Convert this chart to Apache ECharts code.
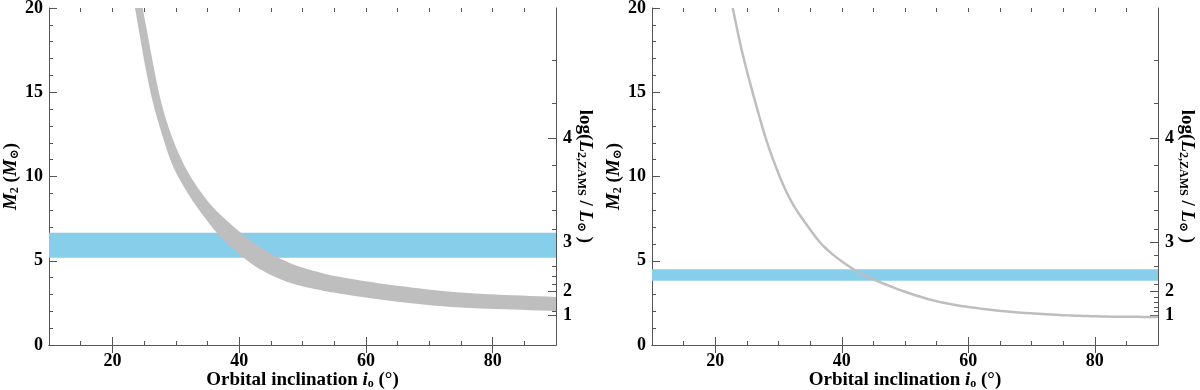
<!DOCTYPE html>
<html>
<head>
    <meta charset="utf-8">
    <title>M2 vs orbital inclination</title>
    <script src="https://cdn.jsdelivr.net/npm/echarts@6/dist/echarts.min.js"></script>
</head>
<body style="margin:0;background:#fff;">
    <div id="myEcharts" style="width: 1200px;height:390px;"></div>
    <script type="text/javascript">
        // x range and tick labels
        var inclMin = 10, inclMax = 90;
        var inclLabels = [20, 40, 60, 80];
        var massMin = 0, massMax = 20;

        // right axis: log L(ZAMS) ticks and the masses where they sit
        var logLMajor = [1, 2, 3, 4];
        var logLMajorMass = [1.76, 3.2, 6.08, 12.27];
        var logLMinor = [1.2, 1.4, 1.6, 1.8, 2.2, 2.4, 2.6, 2.8, 3.2, 3.4, 3.6, 3.8, 4.2, 4.4];
        var logLMinorMass = [2.02, 2.27, 2.51, 2.81, 3.62, 4.1, 4.69, 5.34, 6.88, 7.97, 9.1, 10.68, 14.34, 16.88];

        // left panel: grey band (upper and lower edge) and blue band
        var leftUpperIncl = [24.78, 25.6, 26.5, 27.62, 29.2, 31.46, 34.5, 37.0, 42.24, 47.5, 52.76, 58, 65, 74.3, 90];
        var leftUpperMass = [20, 18.35, 16.55, 14.54, 12.56, 10.58, 8.8, 7.75, 6.1, 4.95, 4.3, 3.9, 3.52, 3.13, 2.85];
        var leftLowerIncl = [23.57, 24.4, 25.2, 26.3, 27.78, 29.6, 32.25, 34.5, 37.0, 42.24, 47.5, 52.76, 58, 65, 74.3, 90];
        var leftLowerMass = [20, 18.2, 16.5, 14.54, 12.56, 10.58, 8.8, 7.6, 6.45, 4.75, 3.76, 3.26, 2.93, 2.57, 2.24, 2.02];
        var leftBlue = [5.18, 6.66];

        // right panel: grey curve and blue band
        var rightIncl = [22.76, 24.18, 26.24, 28.61, 31.77, 34.62, 37.3, 42.05, 46.0, 51.5, 56.3, 64.5, 72.4, 80.3, 90];
        var rightMass = [20, 17.51, 14.54, 11.57, 8.7, 7.05, 5.8, 4.45, 3.74, 2.97, 2.49, 2.05, 1.82, 1.7, 1.66];
        var rightBlue = [3.82, 4.49];

        var serif = '"Liberation Serif", "DejaVu Serif", serif';
        var axisColor = '#555';
        var bandGrey = '#bebebe';
        var skyBlue = '#87ceeb';

        var nameRich = {
            n: {fontFamily: serif, fontSize: 19, fontWeight: 'bold', color: '#000'},
            it: {fontFamily: serif, fontSize: 19, fontWeight: 'bold', fontStyle: 'italic', color: '#000'},
            sub: {fontFamily: serif, fontSize: 12, color: '#000', verticalAlign: 'bottom'}
        };

        // centripetal catmull-rom through pixel points, only for drawing
        function smoothPts(pts) {
            var out = [pts[0]];
            function tj(ti, a, b) {
                var dx = b[0] - a[0], dy = b[1] - a[1];
                return ti + Math.max(Math.pow(dx * dx + dy * dy, 0.25), 1e-4);
            }
            for (var i = 0; i < pts.length - 1; i++) {
                var p0 = pts[i - 1] || [2 * pts[i][0] - pts[i + 1][0], 2 * pts[i][1] - pts[i + 1][1]];
                var p1 = pts[i], p2 = pts[i + 1];
                var p3 = pts[i + 2] || [2 * p2[0] - p1[0], 2 * p2[1] - p1[1]];
                var t0 = 0, t1 = tj(t0, p0, p1), t2 = tj(t1, p1, p2), t3 = tj(t2, p2, p3);
                for (var s = 1; s <= 12; s++) {
                    var t = t1 + (t2 - t1) * s / 12;
                    var pt = [];
                    for (var d = 0; d < 2; d++) {
                        var a1 = (t1 - t) / (t1 - t0) * p0[d] + (t - t0) / (t1 - t0) * p1[d];
                        var a2 = (t2 - t) / (t2 - t1) * p1[d] + (t - t1) / (t2 - t1) * p2[d];
                        var a3 = (t3 - t) / (t3 - t2) * p2[d] + (t - t2) / (t3 - t2) * p3[d];
                        var b1 = (t2 - t) / (t2 - t0) * a1 + (t - t0) / (t2 - t0) * a2;
                        var b2 = (t3 - t) / (t3 - t1) * a2 + (t - t1) / (t3 - t1) * a3;
                        pt.push((t2 - t) / (t2 - t1) * b1 + (t - t1) / (t2 - t1) * b2);
                    }
                    out.push(pt);
                }
            }
            return out;
        }

        function xAxes(g) {
            var base = {gridIndex: g, type: 'value', min: inclMin, max: inclMax, splitLine: {show: false}};
            return [
                Object.assign({}, base, {
                    position: 'bottom',
                    axisLine: {show: true, lineStyle: {color: axisColor, width: 1}},
                    axisTick: {inside: true, length: 8, customValues: inclLabels, lineStyle: {color: axisColor}},
                    axisLabel: {customValues: inclLabels, margin: 7, fontFamily: serif, fontSize: 18, fontWeight: 'bold', color: '#000'},
                    name: '{n|Orbital inclination }{it|i}{sub|o}{n| (°)}',
                    nameLocation: 'middle', nameGap: 26, nameMoveOverlap: false,
                    nameTextStyle: {rich: nameRich, fontFamily: serif, fontSize: 19, fontWeight: 'bold'}
                }),
                Object.assign({}, base, {
                    position: 'bottom', interval: 5,
                    axisLine: {show: false},
                    axisTick: {inside: true, length: 4, lineStyle: {color: axisColor}},
                    axisLabel: {show: false}
                }),
                Object.assign({}, base, {
                    position: 'top',
                    axisLine: {show: true, lineStyle: {color: axisColor, width: 1}},
                    axisTick: {inside: true, length: 8, customValues: inclLabels, lineStyle: {color: axisColor}},
                    axisLabel: {show: false}
                }),
                Object.assign({}, base, {
                    position: 'top', interval: 5,
                    axisLine: {show: false},
                    axisTick: {inside: true, length: 4, lineStyle: {color: axisColor}},
                    axisLabel: {show: false}
                })
            ];
        }

        function yAxes(g) {
            var base = {gridIndex: g, type: 'value', min: massMin, max: massMax, splitLine: {show: false}};
            return [
                Object.assign({}, base, {
                    position: 'left', interval: 5,
                    axisLine: {show: true, lineStyle: {color: axisColor, width: 1}},
                    axisTick: {inside: true, length: 8, lineStyle: {color: axisColor}},
                    minorTick: {show: true, splitNumber: 5, length: 4, lineStyle: {color: axisColor}},
                    axisLabel: {margin: 6, fontFamily: serif, fontSize: 18, fontWeight: 'bold', color: '#000'},
                    name: '{it|M}{sub|2}{n| (}{it|M}{sub|⊙}{n|)}',
                    nameLocation: 'middle', nameGap: 28, nameMoveOverlap: false,
                    nameTextStyle: {rich: nameRich, fontFamily: serif, fontSize: 19, fontWeight: 'bold'}
                }),
                Object.assign({}, base, {
                    position: 'right',
                    axisLine: {show: true, lineStyle: {color: axisColor, width: 1}},
                    axisTick: {inside: true, length: 8, customValues: logLMajorMass, lineStyle: {color: axisColor}},
                    axisLabel: {
                        customValues: logLMajorMass, margin: 7,
                        fontFamily: serif, fontSize: 18, fontWeight: 'bold', color: '#000',
                        formatter: function (v) {
                            for (var k = 0; k < logLMajorMass.length; k++) {
                                if (Math.abs(logLMajorMass[k] - v) < 1e-6) return String(logLMajor[k]);
                            }
                            return '';
                        }
                    },
                    name: '{n|log(}{it|L}{sub|2,ZAMS}{n| / }{it|L}{sub|⊙}{n| )}',
                    nameLocation: 'middle', nameGap: 19, nameRotate: -90, nameMoveOverlap: false,
                    nameTextStyle: {rich: nameRich, fontFamily: serif, fontSize: 19, fontWeight: 'bold'}
                }),
                Object.assign({}, base, {
                    position: 'right',
                    axisLine: {show: false},
                    axisTick: {inside: true, length: 4, customValues: logLMinorMass, lineStyle: {color: axisColor}},
                    axisLabel: {show: false}
                })
            ];
        }

        function bandSeries(g, band) {
            return {
                type: 'custom', xAxisIndex: g * 4, yAxisIndex: g * 3, clip: true, silent: true,
                data: [[band[0], band[1]]],
                renderItem: function (params, api) {
                    var p0 = api.coord([inclMin, band[1]]);
                    var p1 = api.coord([inclMax, band[0]]);
                    return {type: 'rect', shape: {x: p0[0], y: p0[1], width: p1[0] - p0[0], height: p1[1] - p0[1]},
                        style: {fill: skyBlue}};
                }
            };
        }

        var leftGreyBand = {
            type: 'custom', xAxisIndex: 0, yAxisIndex: 0, clip: true, silent: true, z: 3,
            data: [[0]],
            renderItem: function (params, api) {
                var up = [], lo = [];
                for (var k = 0; k < leftUpperIncl.length; k++) up.push(api.coord([leftUpperIncl[k], leftUpperMass[k]]));
                for (var j = 0; j < leftLowerIncl.length; j++) lo.push(api.coord([leftLowerIncl[j], leftLowerMass[j]]));
                var pts = smoothPts(up).concat(smoothPts(lo).reverse());
                return {type: 'polygon', shape: {points: pts}, style: {fill: bandGrey}};
            }
        };

        var rightCurve = {
            type: 'custom', xAxisIndex: 4, yAxisIndex: 3, clip: true, silent: true, z: 3,
            data: [[0]],
            renderItem: function (params, api) {
                var pts = [];
                for (var k = 0; k < rightIncl.length; k++) pts.push(api.coord([rightIncl[k], rightMass[k]]));
                return {type: 'polyline', shape: {points: smoothPts(pts)},
                    style: {stroke: bandGrey, lineWidth: 2.5, fill: null}};
            }
        };

        var myChart = echarts.init(document.getElementById('myEcharts'));
        var option = {
            animation: false,
            backgroundColor: '#fff',
            grid: [
                {left: 49, top: 8, width: 507, height: 337, outerBoundsMode: 'none'},
                {left: 652, top: 8, width: 506, height: 337, outerBoundsMode: 'none'}
            ],
            xAxis: xAxes(0).concat(xAxes(1)),
            yAxis: yAxes(0).concat(yAxes(1)),
            series: [
                bandSeries(0, leftBlue),
                leftGreyBand,
                bandSeries(1, rightBlue),
                rightCurve
            ]
        };
        myChart.setOption(option);
    </script>
</body>
</html>
